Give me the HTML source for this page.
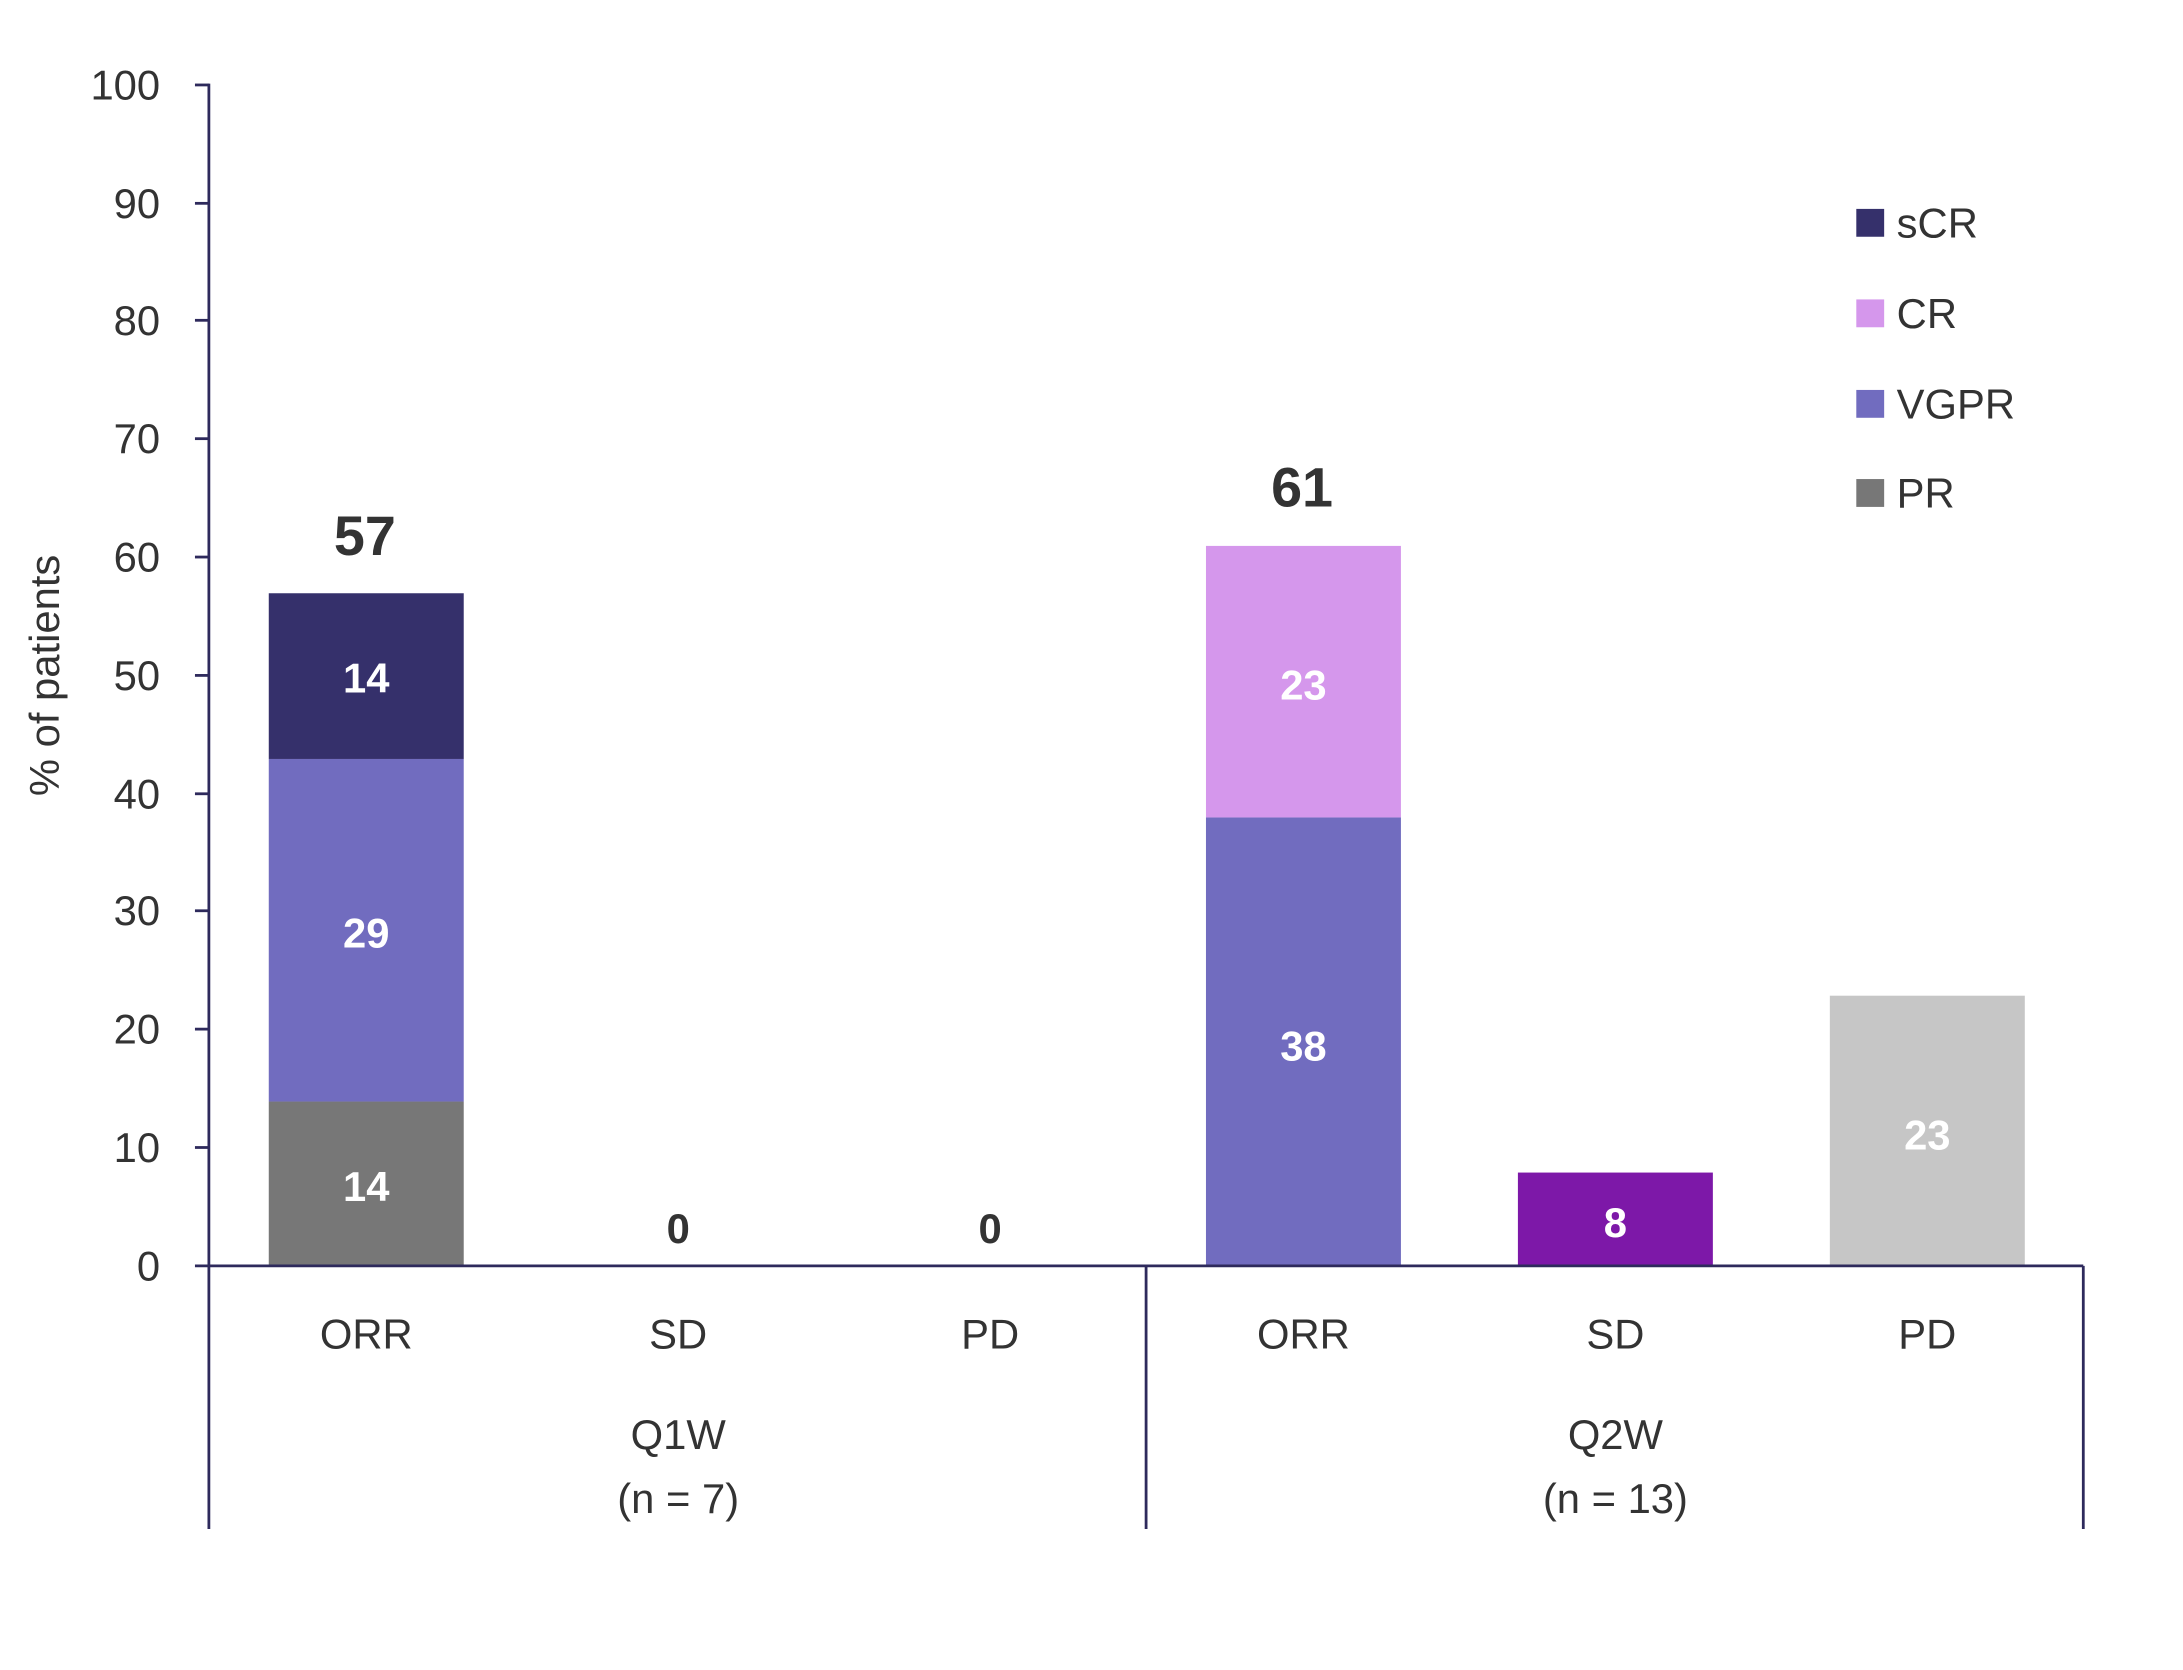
<!DOCTYPE html>
<html><head><meta charset="utf-8"><style>html,body{margin:0;padding:0;background:#fff}svg{display:block}</style></head>
<body>
<svg width="2183" height="1670" viewBox="0 0 1567.6 1199.2" xmlns="http://www.w3.org/2000/svg" font-family="Liberation Sans, sans-serif">
<rect width="1567.6" height="1199.2" fill="#fff"/>
<!-- bars -->
<rect x="193" y="791" width="140" height="118" fill="#777777"/>
<rect x="193" y="545" width="140" height="246" fill="#716cbf"/>
<rect x="193" y="426" width="140" height="119" fill="#35306b"/>
<rect x="866" y="587" width="140" height="322" fill="#716cbf"/>
<rect x="866" y="392" width="140" height="195" fill="#d597ec"/>
<rect x="1090" y="842" width="140" height="67" fill="#7d18a8"/>
<rect x="1314" y="715" width="140" height="194" fill="#c6c6c6"/>
<!-- axes -->
<g stroke="#2e2a5c" stroke-width="2" fill="none">
<line x1="150" y1="60" x2="150" y2="1098"/>
<line x1="140" y1="909" x2="1496" y2="909"/>
<line x1="823" y1="909" x2="823" y2="1098"/>
<line x1="1496" y1="909" x2="1496" y2="1098"/>
<line x1="140" y1="61" x2="150" y2="61"/><line x1="140" y1="146" x2="150" y2="146"/>
<line x1="140" y1="230" x2="150" y2="230"/><line x1="140" y1="315" x2="150" y2="315"/>
<line x1="140" y1="400" x2="150" y2="400"/><line x1="140" y1="485" x2="150" y2="485"/>
<line x1="140" y1="570" x2="150" y2="570"/><line x1="140" y1="654" x2="150" y2="654"/>
<line x1="140" y1="739" x2="150" y2="739"/><line x1="140" y1="824" x2="150" y2="824"/>
</g>
<g font-size="30" fill="#333" text-anchor="end" dominant-baseline="central">
<text x="115" y="61">100</text><text x="115" y="146">90</text><text x="115" y="230">80</text>
<text x="115" y="315">70</text><text x="115" y="400">60</text><text x="115" y="485">50</text>
<text x="115" y="570">40</text><text x="115" y="654">30</text><text x="115" y="739">20</text>
<text x="115" y="824">10</text><text x="115" y="909">0</text>
</g>
<text transform="translate(32,485) rotate(-90)" font-size="30" fill="#333" text-anchor="middle" dominant-baseline="central">% of patients</text>
<!-- bar labels -->
<g font-size="30" font-weight="bold" fill="#fff" text-anchor="middle" dominant-baseline="central">
<text x="263" y="852">14</text><text x="263" y="670">29</text><text x="263" y="487">14</text>
<text x="936" y="751">38</text><text x="936" y="492">23</text>
<text x="1160" y="878">8</text><text x="1384" y="815">23</text>
</g>
<g font-weight="bold" fill="#333" text-anchor="middle" dominant-baseline="central">
<text x="487" y="882" font-size="30">0</text><text x="711" y="882" font-size="30">0</text>
<text x="262" y="385" font-size="40">57</text><text x="935" y="350" font-size="40">61</text>
</g>
<!-- category labels -->
<g font-size="30" fill="#333" text-anchor="middle" dominant-baseline="central">
<text x="263" y="958">ORR</text><text x="487" y="958">SD</text><text x="711" y="958">PD</text>
<text x="936" y="958">ORR</text><text x="1160" y="958">SD</text><text x="1384" y="958">PD</text>
<text x="487" y="1030">Q1W</text><text x="487" y="1076">(n = 7)</text>
<text x="1160" y="1030">Q2W</text><text x="1160" y="1076">(n = 13)</text>
</g>
<!-- legend -->
<rect x="1333" y="150" width="20" height="20" fill="#35306b"/>
<rect x="1333" y="215" width="20" height="20" fill="#d597ec"/>
<rect x="1333" y="280" width="20" height="20" fill="#716cbf"/>
<rect x="1333" y="344" width="20" height="20" fill="#777777"/>
<g font-size="30" fill="#333" dominant-baseline="central">
<text x="1362" y="160">sCR</text><text x="1362" y="225">CR</text>
<text x="1362" y="290">VGPR</text><text x="1362" y="354">PR</text>
</g>
</svg>
</body></html>
